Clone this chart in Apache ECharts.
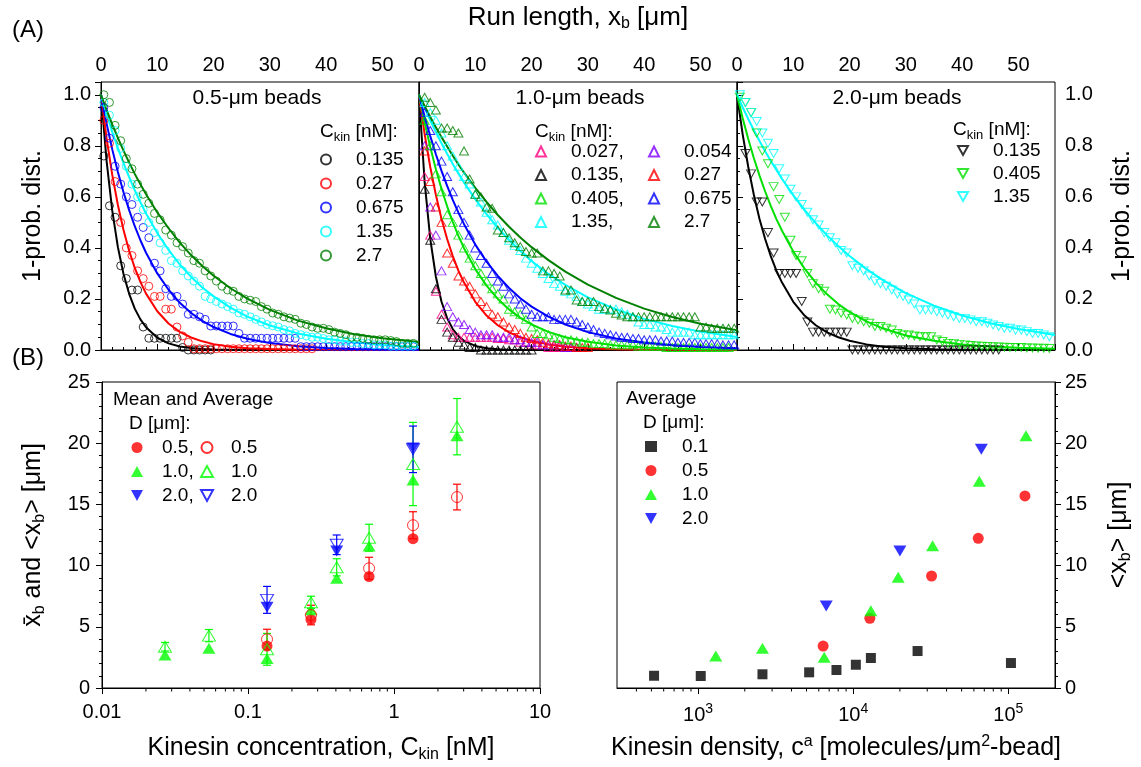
<!DOCTYPE html>
<html><head><meta charset="utf-8">
<script src="https://cdn.jsdelivr.net/npm/echarts@6/dist/echarts.min.js"></script>
<style>html,body{margin:0;padding:0;background:#fff}#c{width:1141px;height:767px}</style>
</head><body><div id="c"></div>
<script>
const FONT = "Arial, 'Liberation Sans', sans-serif";

// ---------- Panel A: histogram bins (µm) ----------
const BINS_HALF = [0.5,1.5,2.5,3.5,4.5,5.5,6.5,7.5,8.5,9.5,10.5,11.5,12.5,13.5,14.5,15.5,16.5,17.5,18.5,19.5,20.5,21.5,22.5,23.5,24.5,25.5,26.5,27.5,28.5,29.5,30.5,31.5,32.5,33.5,34.5,35.5,36.5,37.5,38.5,39.5,40.5,41.5,42.5,43.5,44.5,45.5,46.5,47.5,48.5,49.5,50.5,51.5,52.5,53.5,54.5,55.5];
const BINS_INT = [1,2,3,4,5,6,7,8,9,10,11,12,13,14,15,16,17,18,19,20,21,22,23,24,25,26,27,28,29,30,31,32,33,34,35,36,37,38,39,40,41,42,43,44,45,46,47,48,49,50,51,52,53,54,55,56];
const CURVE_X = [0,1,2,3,4,5,6,7,8,10,12,14,16,18,20,23,26,30,35,40,45,50,56.5];

// 0.5-µm beads
const P05_0135 = [0.76,0.565,0.52,0.33,0.28,0.235,0.235,0.09,0.046,0.046,0.046,0.046,0.046,0.046,0.01,0,0,0,0,0];
const P05_027 = [0.9,0.81,0.66,0.50,0.40,0.37,0.31,0.28,0.25,0.21,0.21,0.16,0.16,0.09,0.055,0.03,0.005,0.005,0.005,0.005,0.005,0.005,0.005,0.005,0.005,0.005,0.005,0.005,0.005,0.005,0.005,0.005,0.005,0.005,0.005,0.005,0.005,0.005];
const P05_0675 = [0.95,0.83,0.72,0.65,0.60,0.57,0.52,0.48,0.44,0.34,0.31,0.24,0.21,0.21,0.18,0.14,0.14,0.13,0.12,0.094,0.094,0.094,0.094,0.094,0.065,0.046,0.046,0.046,0.046,0.046,0.046,0.046,0.046,0.046,0.046,0.013,0.013,0.013,0.013,0.013,0.013,0.013,0.013,0.013,0.013,0.013,0.013,0.013,0.013,0.013,0.013,0.013,0.013,0.013,0.013,0.013];
const P05_135 = [0.97,0.92,0.86,0.79,0.72,0.65,0.60,0.55,0.50,0.46,0.42,0.39,0.35,0.34,0.31,0.29,0.27,0.25,0.21,0.20,0.19,0.18,0.17,0.16,0.145,0.14,0.13,0.12,0.11,0.10,0.095,0.09,0.08,0.075,0.065,0.06,0.055,0.05,0.05,0.045,0.04,0.04,0.035,0.035,0.03,0.03,0.025,0.025,0.02,0.02,0.02,0.015,0.015,0.015,0.015,0.015];
const P05_27 = [1.0,0.97,0.88,0.82,0.75,0.71,0.65,0.61,0.575,0.535,0.51,0.47,0.45,0.42,0.405,0.38,0.35,0.34,0.31,0.29,0.27,0.25,0.235,0.23,0.21,0.20,0.195,0.19,0.17,0.16,0.145,0.14,0.13,0.125,0.12,0.105,0.10,0.09,0.085,0.085,0.08,0.07,0.065,0.06,0.05,0.05,0.046,0.042,0.04,0.04,0.04,0.037,0.033,0.026,0.026,0.026];
const FIT05_0135 = [1,0.739,0.546,0.403,0.298,0.220,0.162,0.120,0.089,0.048,0.026,0.014,0.008,0.004,0.002,0.001,0,0,0,0,0,0,0];
const FIT05_027 = [1,0.828,0.686,0.568,0.470,0.389,0.322,0.267,0.221,0.152,0.104,0.071,0.049,0.034,0.023,0.013,0.007,0.0035,0.0014,0.0005,0.0002,0.0001,0];
const FIT05_0675 = [1,0.887,0.786,0.697,0.618,0.548,0.485,0.430,0.381,0.300,0.236,0.185,0.145,0.114,0.090,0.063,0.044,0.027,0.015,0.008,0.004,0.002,0.001];
const FIT05_135 = [1,0.925,0.855,0.791,0.732,0.677,0.626,0.579,0.535,0.458,0.392,0.335,0.287,0.245,0.210,0.166,0.131,0.096,0.065,0.044,0.030,0.020,0.012];
const FIT05_27 = [1,0.940,0.884,0.831,0.781,0.734,0.690,0.649,0.610,0.539,0.477,0.421,0.372,0.329,0.291,0.242,0.201,0.157,0.115,0.085,0.062,0.046,0.031];

// 1.0-µm beads
const P10_0027 = [0.68,0.45,0.23,0.14,0.09,0.06,0.05,0.05,0.05,0.05,0.05,0.05,0.05,0.045,0.045,0.04,0.04,0.03,0.03,0.02,0.02,0.02,0.01,0.01,0.01,0.01,0.01];
const P10_0054 = [0.80,0.56,0.45,0.31,0.17,0.13,0.11,0.10,0.08,0.07,0.06,0.06,0.06,0.05,0.05,0.05,0.04,0.04,0.03,0.03,0.03,0.02,0.02,0.02,0.02,0.01,0.01,0.01];
const P10_0135 = [0.63,0.43,0.24,0.12,0.07,0.05,0.03,0.02,0.01,0.01,0,0,0,0,0,0,0,0,0,0];
const P10_027 = [0.78,0.66,0.56,0.50,0.38,0.34,0.29,0.27,0.25,0.22,0.19,0.17,0.14,0.13,0.11,0.09,0.08,0.065,0.05,0.045,0.04,0.03,0.025,0.02,0.02,0.015,0.015,0.01,0.01,0.01];
const P10_0405 = [0.90,0.80,0.69,0.62,0.53,0.50,0.45,0.40,0.36,0.33,0.30,0.27,0.24,0.22,0.20,0.16,0.15,0.14,0.12,0.09,0.065,0.065,0.06,0.05,0.045,0.04,0.04,0.035,0.03,0.03,0.025,0.025,0.025,0.02,0.02,0.02,0.02,0.02,0.015,0.015,0.015,0.015,0.015,0.01,0.01,0.01,0.01,0.01,0.01,0.01,0.01,0.01,0.01,0.01,0.01];
const P10_0675 = [0.93,0.86,0.80,0.74,0.68,0.62,0.55,0.50,0.45,0.40,0.37,0.34,0.30,0.27,0.25,0.22,0.20,0.18,0.16,0.14,0.13,0.13,0.13,0.12,0.12,0.12,0.12,0.11,0.10,0.09,0.08,0.07,0.065,0.06,0.055,0.05,0.05,0.045,0.045,0.04,0.04,0.04,0.035,0.035,0.035,0.03,0.03,0.03,0.03,0.025,0.025,0.025,0.025,0.02,0.02,0.02];
const P10_135 = [0.97,0.93,0.90,0.85,0.80,0.76,0.72,0.68,0.65,0.61,0.58,0.54,0.51,0.49,0.46,0.43,0.41,0.39,0.36,0.34,0.32,0.30,0.28,0.26,0.25,0.23,0.22,0.21,0.19,0.18,0.17,0.16,0.16,0.16,0.16,0.15,0.14,0.13,0.11,0.10,0.10,0.09,0.09,0.08,0.07,0.07,0.07,0.07,0.06,0.06,0.06,0.06,0.06,0.06,0.06,0.06];
const P10_27 = [0.99,0.97,0.94,0.87,0.87,0.86,0.85,0.78,0.67,0.61,0.60,0.56,0.555,0.47,0.46,0.44,0.42,0.405,0.386,0.38,0.38,0.31,0.31,0.30,0.29,0.235,0.235,0.196,0.19,0.19,0.19,0.17,0.163,0.157,0.144,0.137,0.13,0.13,0.13,0.13,0.13,0.13,0.13,0.13,0.13,0.13,0.13,0.13,0.13,0.09,0.09,0.085,0.085,0.085,0.085,0.085];
const FIT10_0135 = [1,0.659,0.435,0.287,0.189,0.125,0.082,0.054,0.036,0.016,0.007,0.003,0.001,0,0,0,0,0,0,0,0,0,0];
const FIT10_027 = [1,0.846,0.717,0.607,0.513,0.435,0.368,0.311,0.264,0.189,0.135,0.097,0.069,0.050,0.036,0.022,0.013,0.0067,0.0029,0.0013,0.0006,0.0002,0.0001];
const FIT10_0405 = [1,0.891,0.795,0.708,0.631,0.563,0.502,0.447,0.399,0.317,0.252,0.200,0.159,0.126,0.100,0.071,0.050,0.032,0.018,0.010,0.006,0.003,0.0015];
const FIT10_0675 = [1,0.915,0.838,0.767,0.702,0.643,0.588,0.538,0.493,0.413,0.346,0.290,0.243,0.203,0.170,0.131,0.100,0.070,0.045,0.029,0.019,0.012,0.0067];
const FIT10_135 = [1,0.949,0.900,0.854,0.810,0.769,0.729,0.692,0.656,0.591,0.532,0.479,0.431,0.388,0.349,0.298,0.255,0.206,0.159,0.122,0.094,0.072,0.051];
const FIT10_27 = [1,0.956,0.913,0.873,0.834,0.797,0.761,0.727,0.695,0.635,0.580,0.529,0.483,0.441,0.403,0.352,0.307,0.256,0.204,0.162,0.129,0.103,0.077];

// 2.0-µm beads
const P20_0135 = [null,0.77,0.69,0.58,0.58,0.46,0.38,0.30,0.30,0.30,0.30,0.19,0.11,0.07,0.07,0.07,0.07,0.07,0.07,0.07,0,0,0,0,0,0,0,0,0,0,0,0,0,0,0,0,0,0,0,0,0,0,0,0,0,0,0];
const P20_0405 = [0.99,0.97,0.93,0.85,0.78,0.73,0.64,0.59,0.52,0.43,0.37,0.35,0.30,0.26,0.24,0.23,0.16,0.157,0.144,0.137,0.124,0.118,0.111,0.105,0.092,0.092,0.085,0.078,0.065,0.059,0.059,0.055,0.052,0.052,0.052,0.039,0.033,0.026,0.026,0.022,0.02,0.018,0.016,0.015,0.014,0.013,0.012,0.011,0.01,0.01,0.01,0.008,0.008,0.007,0.007,0.006];
const P20_135 = [1.0,0.97,0.93,0.895,0.85,0.81,0.77,0.71,0.67,0.63,0.60,0.57,0.54,0.51,0.49,0.46,0.44,0.42,0.39,0.38,0.33,0.32,0.31,0.29,0.27,0.26,0.25,0.235,0.22,0.21,0.196,0.18,0.157,0.157,0.157,0.15,0.144,0.137,0.13,0.124,0.124,0.118,0.111,0.111,0.105,0.098,0.092,0.085,0.085,0.078,0.078,0.072,0.065,0.065,0.059,0.052];
const FIT20_0135 = [1,0.846,0.717,0.607,0.513,0.435,0.368,0.311,0.264,0.189,0.135,0.097,0.069,0.050,0.036,0.022,0.013,0.0067,0.0029,0.0013,0.0006,0.0002,0.0001];
const FIT20_0405 = [1,0.909,0.827,0.751,0.683,0.621,0.565,0.513,0.467,0.386,0.319,0.264,0.218,0.180,0.149,0.112,0.084,0.057,0.036,0.022,0.014,0.009,0.0046];
const FIT20_135 = [1,0.951,0.905,0.861,0.819,0.779,0.741,0.705,0.670,0.607,0.549,0.497,0.449,0.407,0.368,0.317,0.273,0.223,0.174,0.135,0.105,0.082,0.059];

// ---------- Panel B left: vs kinesin concentration ----------
const CKIN_05 = [0.135,0.27,0.675,1.35,2.7];
const MEAN_05 = [3.98,5.96,9.78,13.3,15.6];
const ERR_05 = [0.82,0.8,0.9,1.1,1.05];
const CKIN_05_AVG = [0.135,0.27,0.675,1.35];
const AVG_05 = [3.43,5.6,9.1,12.2];
const CKIN_10 = [0.027,0.054,0.135,0.27,0.405,0.675,1.35,2.7];
const MEAN_10 = [3.37,4.28,3.16,7.0,9.86,12.28,18.3,21.35];
const ERR_10 = [0.35,0.5,1.3,0.5,0.7,1.1,3.4,2.3];
const AVG_10 = [2.7,3.24,2.42,6.4,8.96,11.6,17.0,20.6];
const CKIN_20 = [0.135,0.405,1.35];
const MEAN_20 = [7.2,11.7,19.5];
const ERR_20 = [1.1,0.8,1.9];
const AVG_20 = [6.6,11.2,19.6];

// ---------- Panel B right: vs kinesin density ----------
const DENS_01 = [520,1040,2600,5200,7800,10400,13000,26000,104000];
const AVGD_01 = [1.0,0.98,1.12,1.28,1.47,1.9,2.45,3.02,2.04];
const DENS_05 = [6400,12800,32000,64000,128000];
const AVGD_05 = [3.43,5.69,9.15,12.23,15.69];
const DENS_10 = [1300,2600,6500,13000,19500,32500,65000,130000];
const AVGD_10 = [2.61,3.24,2.51,6.32,9.04,11.63,16.9,20.6];
const DENS_20 = [6700,20000,67000];
const AVGD_20 = [6.7,11.2,19.5];

// ---------- helpers ----------
const DOWN_TRI = 'path://M0,0 L10,0 L5,9 Z';
const LABELS = {};
function pairs(xs, ys){ const out=[]; ys.forEach((y,i)=>{ if(y!=null) out.push([xs[i], y]); }); return out; }
function hollow(name, label, gi, xs, ys, color, symbol, size){
  LABELS[name] = label;
  return {type:'scatter', name, xAxisIndex:gi, yAxisIndex:gi, data:pairs(xs,ys), symbol, symbolSize:size,
    itemStyle:{color:'rgba(255,255,255,0)', borderColor:color, borderWidth:1}, z:4, silent:true};
}
function filled(name, label, gi, xs, ys, color, symbol, size){
  LABELS[name] = label;
  return {type:'scatter', name, xAxisIndex:gi, yAxisIndex:gi, data:pairs(xs,ys), symbol, symbolSize:size,
    itemStyle:{color:color, borderColor:color, borderWidth:0}, z:4, silent:true};
}
function curve(gi, ys, color){
  return {type:'line', xAxisIndex:gi, yAxisIndex:gi, data:pairs(CURVE_X, ys), showSymbol:false, symbol:'none',
    smooth:false, lineStyle:{color, width:2}, silent:true, z:3};
}
function errBars(gi, xs, ys, es, color){
  return {type:'custom', xAxisIndex:gi, yAxisIndex:gi, silent:true, z:3,
    data: xs.map((x,i)=>[x, ys[i], es[i]]),
    renderItem:(p, api)=>{
      const x=api.value(0), y=api.value(1), e=api.value(2);
      const t=api.coord([x,y+e]), b=api.coord([x,y-e]);
      const st={stroke:color, lineWidth:1.2};
      return {type:'group', children:[
        {type:'line', shape:{x1:t[0],y1:t[1],x2:b[0],y2:b[1]}, style:st},
        {type:'line', shape:{x1:t[0]-4,y1:t[1],x2:t[0]+4,y2:t[1]}, style:st},
        {type:'line', shape:{x1:b[0]-4,y1:b[1],x2:b[0]+4,y2:b[1]}, style:st}
      ]};
    }};
}
function logMinor(lo, hi){ const v=[]; for(let d=Math.floor(Math.log10(lo)); d<=Math.ceil(Math.log10(hi)); d++){ for(let k=2;k<=9;k++){ const t=k*Math.pow(10,d); if(t>lo*1.0001 && t<hi*0.9999) v.push(t);} } return v; }
function minorTicks(gi, vals){
  return {type:'custom', xAxisIndex:gi, yAxisIndex:gi, silent:true, clip:false, z:5,
    data: vals.map(v=>[v,0]),
    renderItem:(p, api)=>{ const c=api.coord([api.value(0),0]);
      return {type:'line', shape:{x1:c[0],y1:c[1],x2:c[0],y2:c[1]+3.5}, style:{stroke:'#000', lineWidth:1}}; }};
}

const C = {black:'#000000', red:'#ff0000', blue:'#0000ff', cyan:'#00ffff', dgreen:'#008000', green:'#00e000', pink:'#ff0080', purple:'#8000ff', lime:'#00ff00'};

const series = [
  // panel 1
  curve(0, FIT05_0135, C.black), curve(0, FIT05_027, C.red), curve(0, FIT05_0675, C.blue), curve(0, FIT05_135, C.cyan), curve(0, FIT05_27, C.dgreen),
  hollow('a1_0135','0.135',0,BINS_HALF,P05_0135,C.black,'circle',8),
  hollow('a1_027','0.27',0,BINS_HALF,P05_027,C.red,'circle',8),
  hollow('a1_0675','0.675',0,BINS_HALF,P05_0675,C.blue,'circle',8),
  hollow('a1_135','1.35',0,BINS_HALF,P05_135,C.cyan,'circle',8),
  hollow('a1_27','2.7',0,BINS_HALF,P05_27,C.dgreen,'circle',8),
  // panel 2
  curve(1, FIT10_0135, C.black), curve(1, FIT10_027, C.red), curve(1, FIT10_0405, C.green), curve(1, FIT10_0675, C.blue), curve(1, FIT10_135, C.cyan), curve(1, FIT10_27, C.dgreen),
  hollow('a2_0027','0.027,',1,BINS_INT,P10_0027,C.pink,'triangle',[9,8]),
  hollow('a2_0054','0.054',1,BINS_INT,P10_0054,C.purple,'triangle',[9,8]),
  hollow('a2_0135','0.135,',1,BINS_INT,P10_0135,C.black,'triangle',[9,8]),
  hollow('a2_027','0.27',1,BINS_INT,P10_027,C.red,'triangle',[9,8]),
  hollow('a2_0405','0.405,',1,BINS_INT,P10_0405,C.green,'triangle',[9,8]),
  hollow('a2_0675','0.675',1,BINS_INT,P10_0675,C.blue,'triangle',[9,8]),
  hollow('a2_135','1.35,',1,BINS_INT,P10_135,C.cyan,'triangle',[9,8]),
  hollow('a2_27','2.7',1,BINS_INT,P10_27,C.dgreen,'triangle',[9,8]),
  // panel 3
  curve(2, FIT20_0135, C.black), curve(2, FIT20_0405, C.green), curve(2, FIT20_135, C.cyan),
  hollow('a3_0135','0.135',2,BINS_HALF,P20_0135,C.black,DOWN_TRI,[9,8]),
  hollow('a3_0405','0.405',2,BINS_HALF,P20_0405,C.green,DOWN_TRI,[9,8]),
  hollow('a3_135','1.35',2,BINS_HALF,P20_135,C.cyan,DOWN_TRI,[9,8]),
  // bottom left
  errBars(3, CKIN_05, MEAN_05, ERR_05, C.red),
  errBars(3, CKIN_10, MEAN_10, ERR_10, C.lime),
  errBars(3, CKIN_20, MEAN_20, ERR_20, C.blue),
  filled('bf_05','0.5,',3,CKIN_05_AVG,AVG_05,C.red,'circle',11),
  filled('bf_10','1.0,',3,CKIN_10,AVG_10,C.lime,'triangle',[13,11]),
  filled('bf_20','2.0,',3,CKIN_20,AVG_20,C.blue,DOWN_TRI,[13,11]),
  hollow('bo_05','0.5',3,CKIN_05,MEAN_05,C.red,'circle',11),
  hollow('bo_10','1.0',3,CKIN_10,MEAN_10,C.lime,'triangle',[13,11]),
  hollow('bo_20','2.0',3,CKIN_20,MEAN_20,C.blue,DOWN_TRI,[13,11]),
  // bottom right
  filled('br_01','0.1',4,DENS_01,AVGD_01,C.black,'rect',10),
  filled('br_05','0.5',4,DENS_05,AVGD_05,C.red,'circle',11),
  filled('br_10','1.0',4,DENS_10,AVGD_10,C.lime,'triangle',[13,11]),
  filled('br_20','2.0',4,DENS_20,AVGD_20,C.blue,DOWN_TRI,[13,11]),
  minorTicks(3, logMinor(0.01, 10)),
  minorTicks(4, logMinor(300, 200000))
];

const axisLine = {show:true, lineStyle:{color:'#000', width:1}};
const tickLbl = {fontSize:20, fontFamily:FONT, color:'#000'};
function nameStyle(sz){ return {fontSize:sz, fontFamily:FONT, color:'#000',
  rich:{sub:{fontSize:Math.round(sz*0.62), fontFamily:FONT, color:'#000', padding:[13,0,0,0]}, sup:{fontSize:Math.round(sz*0.62), fontFamily:FONT, color:'#000', padding:[0,0,13,0]}}}; }

function topX(gi, withName){
  return {type:'value', gridIndex:gi, position:'top', min:0, max:56.5, interval:10,
    axisLine, axisTick:{show:true, length:6, lineStyle:{color:'#000'}},
    minorTick:{show:true, splitNumber:5, length:3, lineStyle:{color:'#000'}},
    splitLine:{show:false}, axisLabel:Object.assign({margin:7, showMaxLabel:false}, tickLbl),
    name: withName ? 'Run length, x{sub|b} [μm]' : '', nameLocation:'middle', nameGap:50, nameTextStyle:nameStyle(26)};
}
function topY(gi, pos, show){
  return {type:'value', gridIndex:gi, position:pos, min:0, max:1.05, interval:0.2,
    axisLine, axisTick:{show:show, length:6, lineStyle:{color:'#000'}},
    minorTick:{show:show, splitNumber:4, length:3, lineStyle:{color:'#000'}},
    splitLine:{show:false},
    axisLabel:Object.assign({show:show, margin:10, showMaxLabel:false, formatter:v=>v.toFixed(1)}, tickLbl),
    name: show ? '1-prob. dist.' : '', nameLocation:'middle', nameGap:55, nameRotate:90, nameTextStyle:nameStyle(25)};
}

function legend(names, left, top, w, h, pad, gap){
  return {show:true, data:names, orient:'vertical', left, top, padding:0, itemWidth:w, itemHeight:h, itemGap:gap, selectedMode:false,
    formatter:n=>LABELS[n], textStyle:{fontSize:19, fontFamily:FONT, color:'#000', padding:[0,0,0,pad]}};
}

const richLbl = {sub:{fontSize:13, fontFamily:FONT, color:'#000', padding:[11,0,0,0]}};
function gtext(x, y, text, size, align, rich){
  return {type:'text', x, y, silent:true, style:{text, fontSize:size, fontFamily:FONT, fill:'#000', align:align||'left', verticalAlign:'middle', rich:rich||undefined}};
}

const option = {
  animation:false,
  backgroundColor:'#fff',
  grid:[
    {left:101, top:82, width:318, height:268, show:true, borderColor:'#000', borderWidth:1},
    {left:419, top:82, width:318, height:268, show:true, borderColor:'#000', borderWidth:1},
    {left:737, top:82, width:318, height:268, show:true, borderColor:'#000', borderWidth:1},
    {left:102, top:382, width:438, height:306, show:true, borderColor:'#000', borderWidth:1},
    {left:617, top:382, width:438, height:306, show:true, borderColor:'#000', borderWidth:1}
  ],
  xAxis:[
    topX(0,false), topX(1,true), topX(2,false),
    {type:'log', gridIndex:3, min:0.01, max:10, logBase:10, position:'bottom',
      axisLine, axisTick:{show:true, length:6, lineStyle:{color:'#000'}}, splitLine:{show:false},
      axisLabel:Object.assign({margin:14}, tickLbl),
      name:'Kinesin concentration, C{sub|kin} [nM]', nameLocation:'middle', nameGap:46, nameTextStyle:nameStyle(25)},
    {type:'log', gridIndex:4, min:300, max:200000, logBase:10, position:'bottom',
      axisLine, axisTick:{show:true, length:6, lineStyle:{color:'#000'}}, splitLine:{show:false},
      axisLabel:Object.assign({margin:14, showMinLabel:false, showMaxLabel:false,
        formatter:v=>'10{sup|'+Math.round(Math.log10(v))+'}',
        rich:{sup:{fontSize:14, fontFamily:FONT, color:'#000', padding:[0,0,12,0]}}}, tickLbl),
      name:'Kinesin density, c{sup|a} [molecules/μm{sup|2}-bead]', nameLocation:'middle', nameGap:46, nameTextStyle:nameStyle(25)}
  ],
  yAxis:[
    topY(0,'left',true), topY(1,'left',false), topY(2,'right',true),
    {type:'value', gridIndex:3, position:'left', min:0, max:25, interval:5,
      axisLine, axisTick:{show:true, length:6, lineStyle:{color:'#000'}},
      minorTick:{show:true, splitNumber:5, length:3, lineStyle:{color:'#000'}}, splitLine:{show:false},
      axisLabel:Object.assign({margin:12}, tickLbl),
      name:'x\u0304{sub|b} and <x{sub|b}> [μm]', nameLocation:'middle', nameGap:54, nameRotate:90, nameTextStyle:nameStyle(25)},
    {type:'value', gridIndex:4, position:'right', min:0, max:25, interval:5,
      axisLine, axisTick:{show:true, length:6, lineStyle:{color:'#000'}},
      minorTick:{show:true, splitNumber:5, length:3, lineStyle:{color:'#000'}}, splitLine:{show:false},
      axisLabel:Object.assign({margin:10}, tickLbl),
      name:'<x{sub|b}> [μm]', nameLocation:'middle', nameGap:50, nameRotate:90, nameTextStyle:nameStyle(25)}
  ],
  legend:[
    legend(['a1_0135','a1_027','a1_0675','a1_135','a1_27'], 320, 150, 10, 10, 20, 5),
    legend(['a2_0027','a2_0135','a2_0405','a2_135'], 535, 142, 10, 10, 20, 4.5),
    legend(['a2_0054','a2_027','a2_0675','a2_27'], 648, 142, 10, 10, 20, 4.5),
    legend(['a3_0135','a3_0405','a3_135'], 957, 141, 10, 10, 20, 4),
    legend(['bf_05','bf_10','bf_20'], 131, 438, 12, 11, 14, 5),
    legend(['bo_05','bo_10','bo_20'], 200, 438, 12, 11, 13, 5),
    legend(['br_01','br_05','br_10','br_20'], 645, 437, 12, 11, 20, 5)
  ],
  graphic:[
    gtext(12, 30, '(A)', 24),
    gtext(12, 358, '(B)', 24),
    gtext(257, 98, '0.5-μm beads', 21, 'center'),
    gtext(580, 98, '1.0-μm beads', 21, 'center'),
    gtext(897, 98, '2.0-μm beads', 21, 'center'),
    gtext(320, 132, 'C{sub|kin} [nM]:', 19, 'left', richLbl),
    gtext(535, 132, 'C{sub|kin} [nM]:', 19, 'left', richLbl),
    gtext(953, 130, 'C{sub|kin} [nM]:', 19, 'left', richLbl),
    gtext(113, 400, 'Mean and Average', 19),
    gtext(129, 424, 'D [μm]:', 19),
    gtext(626, 399, 'Average', 19),
    gtext(643, 423, 'D [μm]:', 19)
  ],
  series
};
const chart = echarts.init(document.getElementById('c'), null, {renderer:'canvas'});
chart.setOption(option);
</script></body></html>
